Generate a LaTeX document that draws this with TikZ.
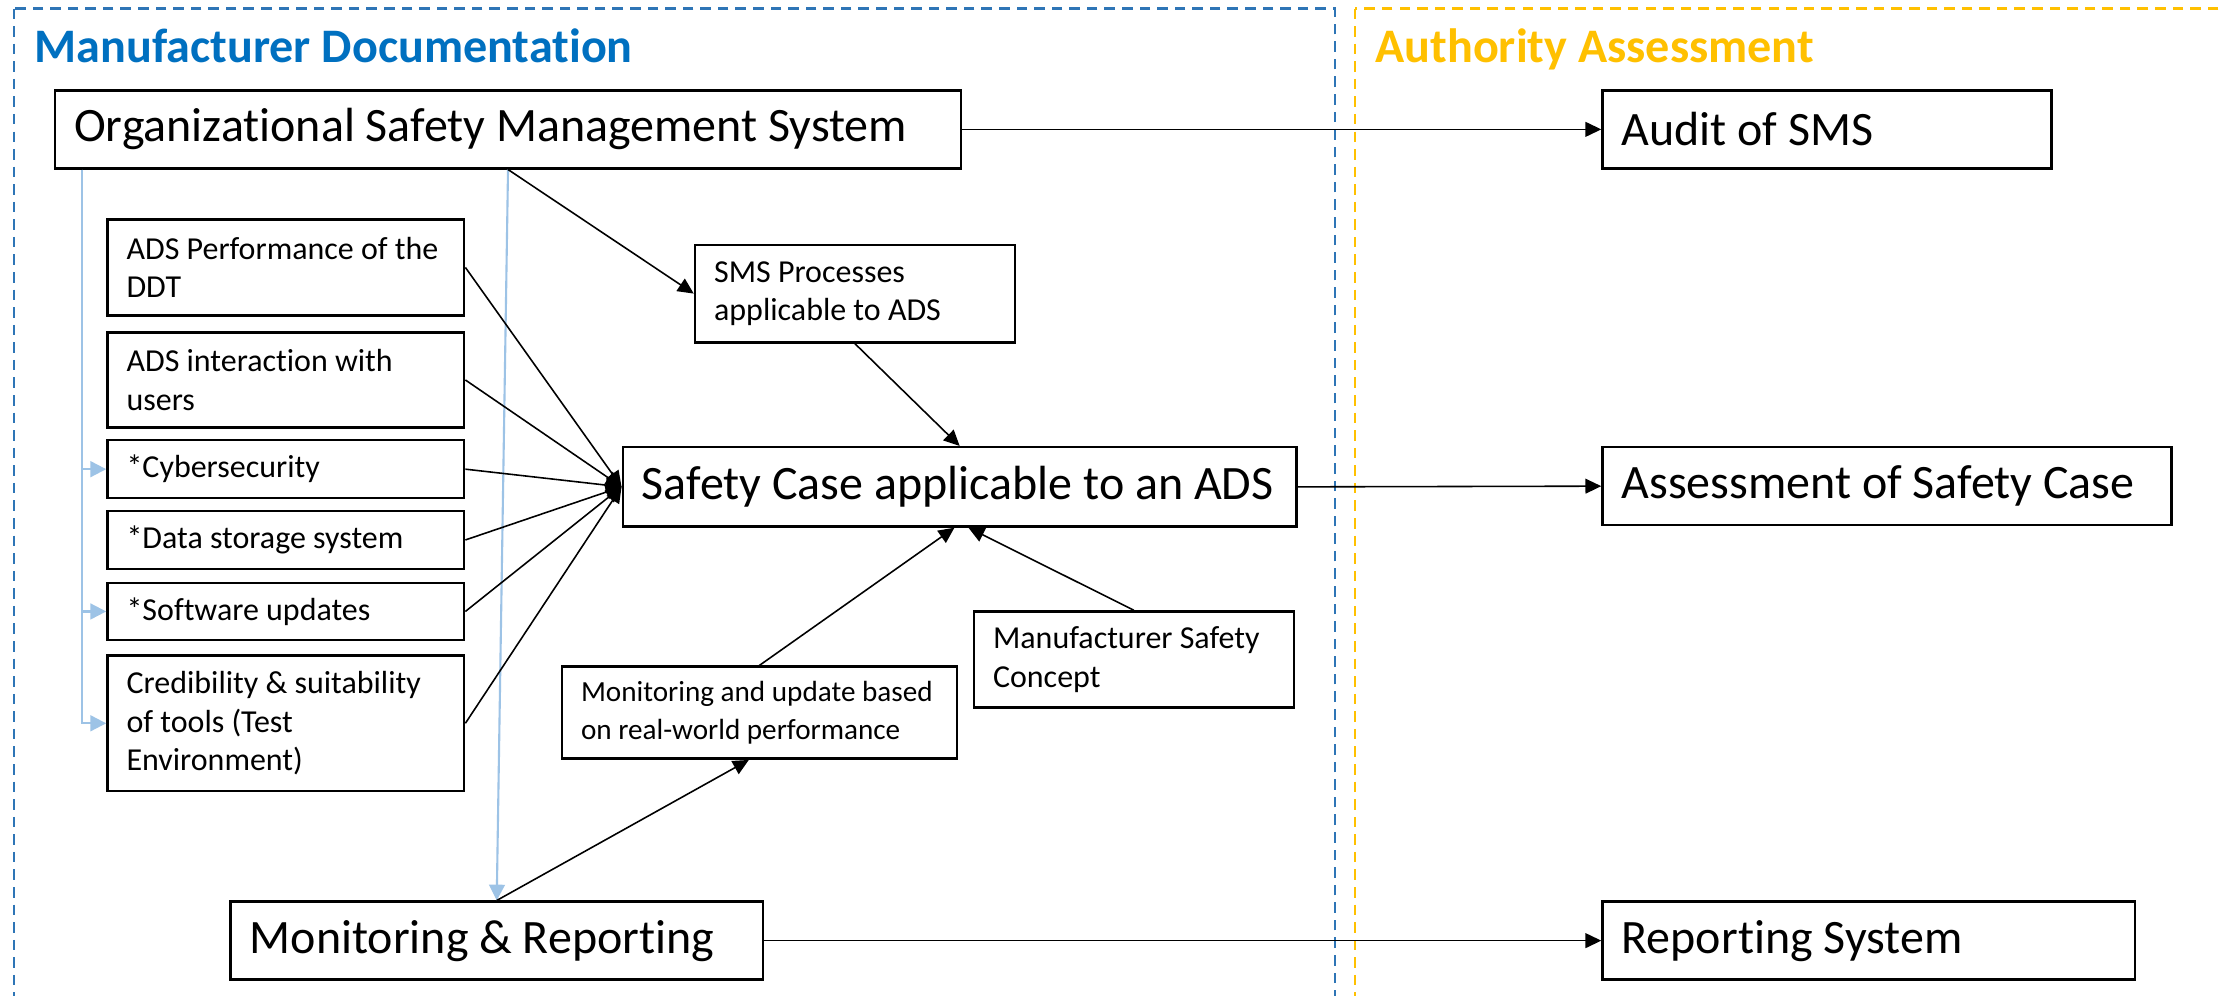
\documentclass[tikz,border=0pt]{standalone}
\usepackage{fontspec}
\setmainfont{Carlito}[Ligatures=NoCommon]
\usetikzlibrary{arrows.meta}
\definecolor{mblue}{RGB}{0,112,192}
\definecolor{dblue}{RGB}{46,117,182}
\definecolor{ayellow}{RGB}{255,192,0}
\definecolor{lblue}{RGB}{157,195,230}
\newcommand\mkbox[7]{%
 \pgfmathsetmacro\bxw{(#4-#2)*0.40283}%
 \pgfmathsetmacro\bxh{(#5-#3)*0.40283}%
 \node[box, anchor=north west, minimum width=\bxw pt, minimum height=\bxh pt] (#1) at (#2,#3) {};
 \node[#7, anchor=west, inner sep=0pt, align=left] (#1t) at ([xshift=5.6pt]#1.west) {#6};}
\tikzset{
 box/.style={draw=black, line width=0.7pt, inner sep=0pt, fill=white},
 big/.style={font=\fontsize{13.65}{16.4}\selectfont},
 small/.style={font=\fontsize{9.1}{10.9}\selectfont},
 arr/.style={draw=black, line width=0.45pt, -{Triangle[length=4.5pt,width=4.2pt]}},
 barr/.style={draw=lblue, line width=0.6pt, -{Triangle[length=4.5pt,width=4.5pt]}},
 region/.style={line width=0.7pt, dash pattern=on 3pt off 2pt},
 title/.style={font=\fontsize{13.7}{16}\selectfont\bfseries, anchor=base west, inner sep=0pt}
}
\begin{document}
\begin{tikzpicture}[x=0.014158cm, y=-0.014158cm]
\useasboundingbox (0,0) rectangle (1568,703);
\clip (0,0) rectangle (1568,703);
\fill[white] (0,0) rectangle (1568,703);
% regions
\draw[region, draw=dblue] (10,6) rectangle (943,740);
\draw[region, draw=ayellow] (957,6) rectangle (1620,740);
\node[title, text=mblue] (t1) at (24,44) {Manufacturer Documentation};
\node[title, text=ayellow] (t2) at (971,44) {Authority Assessment};
% boxes
\mkbox{org}{38}{63}{678}{118}{Organizational Safety Management System}{big}
\mkbox{audit}{1131}{63}{1448}{118}{Audit of SMS}{big}
\mkbox{sms}{490}{172}{716}{241}{SMS Processes\\applicable to ADS}{small}
\mkbox{perf}{75}{154}{327}{222}{ADS Performance of the\\DDT}{small}
\mkbox{inter}{75}{234}{327}{301}{ADS interaction with\\users}{small}
\mkbox{cyber}{75}{310}{327}{351}{*Cybersecurity}{small}
\mkbox{data}{75}{360}{327}{401}{*Data storage system}{small}
\mkbox{soft}{75}{411}{327}{451}{*Software updates}{small}
\mkbox{cred}{75}{462}{327}{558}{Credibility \& suitability\\of tools (Test\\Environment)}{small}
\mkbox{safety}{439}{315}{915}{371}{Safety Case applicable to an ADS}{big}
\mkbox{assess}{1131}{315}{1533}{370}{Assessment of Safety Case}{big}
\mkbox{mu}{396}{470}{675}{535}{Monitoring and update based\\on real-world performance}{font=\fontsize{8.3}{10.6}\selectfont}
\mkbox{msc}{687}{431}{913}{499}{Manufacturer Safety\\Concept}{small}
\mkbox{mr}{162}{636}{538}{691}{Monitoring \& Reporting}{big}
\mkbox{rs}{1131}{636}{1507}{691}{Reporting System}{big}
% light blue connectors
\coordinate (lt) at ([xshift=8pt]org.south west);
\draw[barr] (lt) |- (cyber.west);
\draw[barr] (lt) |- (soft.west);
\draw[barr] (lt) |- (cred.west);
\draw[barr] (org.south) -- (mr.north);
% black connectors
\draw[arr] (org.east) -- (audit.west);
\draw[arr] (safety.east) -- (assess.west);
\draw[arr] (mr.east) -- (rs.west);
\draw[arr] (org.south) -- (sms.west);
\draw[arr] (sms.south) -- (safety.north);
\draw[arr] (perf.east) -- (safety.west);
\draw[arr] (inter.east) -- (safety.west);
\draw[arr] (cyber.east) -- (safety.west);
\draw[arr] (data.east) -- (safety.west);
\draw[arr] (soft.east) -- (safety.west);
\draw[arr] (cred.east) -- (safety.west);
\draw[arr] (mu.north) -- ([xshift=-1.5pt]safety.south);
\draw[arr] (msc.north) -- ([xshift=2.5pt]safety.south);
\draw[arr] (mr.north) -- ([xshift=-3pt]mu.south);
\end{tikzpicture}
\end{document}
